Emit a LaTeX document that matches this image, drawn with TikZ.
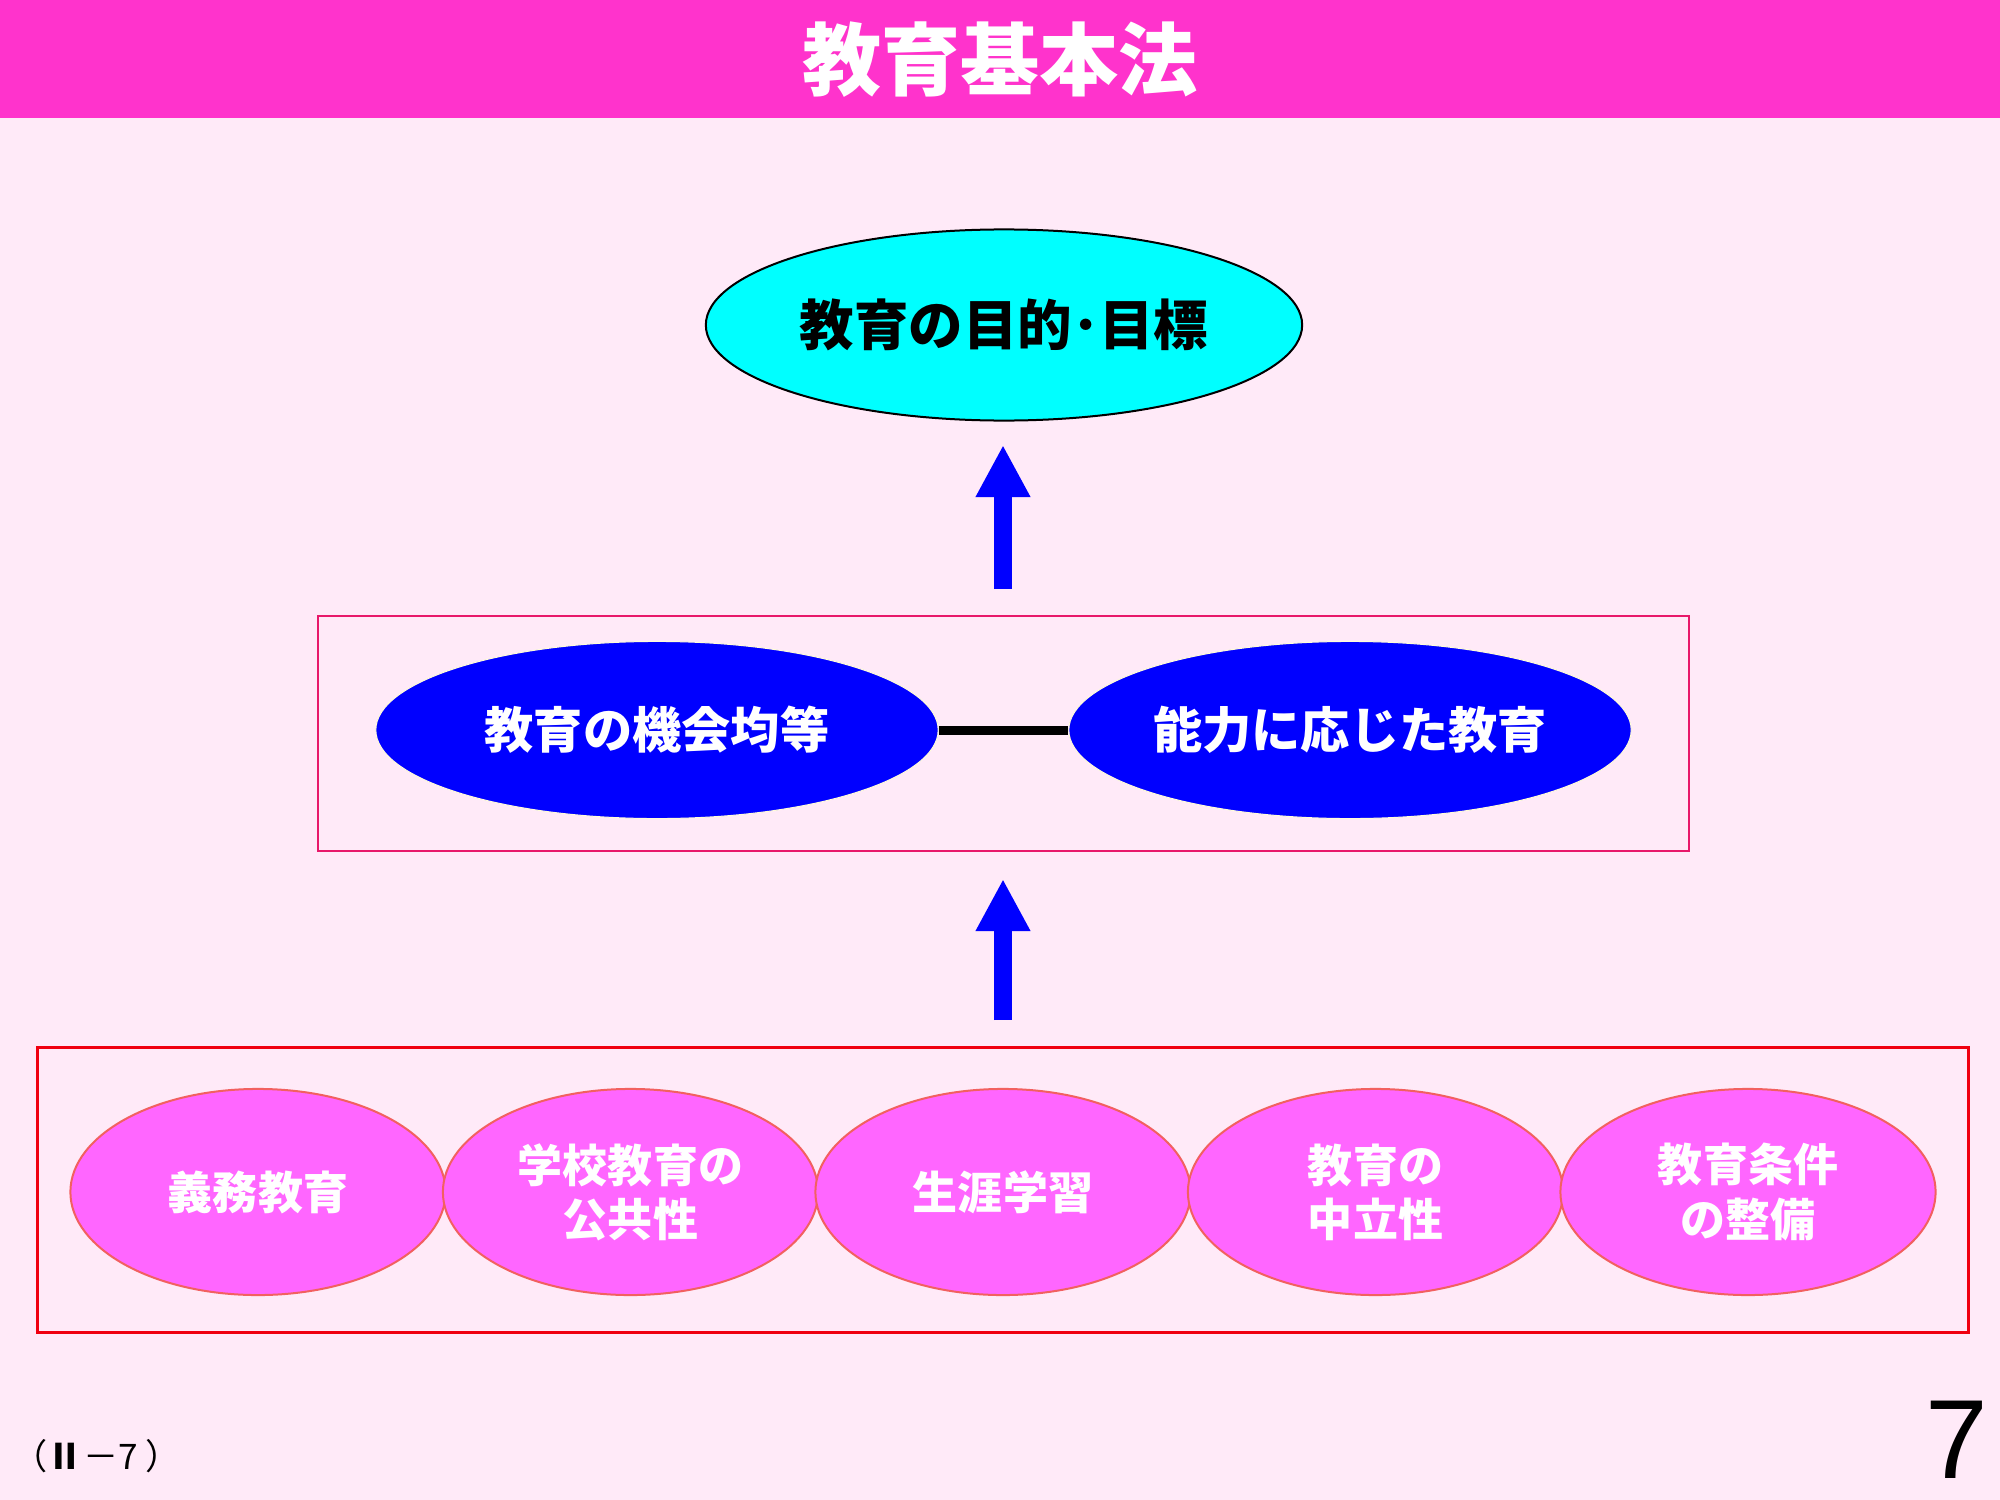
\documentclass[tikz,border=0pt]{standalone}
\usepackage{fontspec}
\newfontfamily\cjk{Noto Sans CJK JP}
\newfontfamily\arial{Liberation Sans}
\usetikzlibrary{shapes.geometric,arrows.meta}
\definecolor{bgpink}{HTML}{FFEAF8}
\definecolor{titlebar}{HTML}{FF33CC}
\definecolor{goalcyan}{HTML}{00FFFF}
\definecolor{ovalpink}{HTML}{FF66FF}
\definecolor{ovaledge}{HTML}{F26060}
\definecolor{boxcrimson}{HTML}{E8186A}
\definecolor{boxred}{HTML}{F00010}
\definecolor{arrowblue}{HTML}{0000FF}
\tikzset{
  goal/.style={ellipse, draw=black, line width=0.02cm, fill=goalcyan, inner sep=0pt,
    minimum width=5.96cm, minimum height=1.91cm,
    font=\cjk\bfseries\fontsize{15.5pt}{18pt}\selectfont, text=black},
  blueoval/.style={ellipse, draw=yellow!15, line width=0.01cm, fill=arrowblue, inner sep=0pt,
    minimum width=5.62cm, minimum height=1.77cm,
    font=\cjk\bfseries\fontsize{14pt}{17pt}\selectfont, text=white},
  pinkoval/.style={ellipse, draw=ovaledge, line width=0.02cm, fill=ovalpink, inner sep=0pt,
    minimum width=3.75cm, minimum height=2.06cm, align=center,
    font=\cjk\bfseries\fontsize{12.8pt}{15.4pt}\selectfont, text=white},
  bigarrow/.style={draw=arrowblue, line width=0.18cm,
    -{Triangle[width=0.51cm,length=0.52cm]}},
}
\begin{document}
\begin{tikzpicture}[x=0.01cm,y=-0.01cm]
\fill[bgpink] (0,0) rectangle (2000,1500);
\useasboundingbox (0,0) rectangle (2000,1500);
% title bar
\fill[titlebar] (0,0) rectangle (2000,118);
\node[text=white, font=\cjk\bfseries\fontsize{22.5pt}{26pt}\selectfont] (title) at (1000,60) {教育基本法};
% top goal
\node[goal] (goal) at (1004,325) {教育の目的･目標};
% middle box
\node[draw=boxcrimson, line width=0.025cm, minimum width=13.70cm, minimum height=2.35cm, inner sep=0pt] (midbox) at (1003.5,733.5) {};
\node[blueoval] (eq) at (657,730) {教育の機会均等};
\node[blueoval] (ab) at (1350,730) {能力に応じた教育};
\draw[line width=0.09cm, black] (eq.east) -- (ab.west);
% bottom box
\node[draw=boxred, line width=0.03cm, minimum width=19.30cm, minimum height=2.84cm, inner sep=0pt] (botbox) at (1003,1190) {};
\node[pinkoval] (p1) at (258,1192) {義務教育};
\node[pinkoval] (p2) at (630.5,1192) {学校教育の\\公共性};
\node[pinkoval] (p3) at (1003,1192) {生涯学習};
\node[pinkoval] (p4) at (1375.5,1192) {教育の\\中立性};
\node[pinkoval] (p5) at (1748,1192) {教育条件\\の整備};
% arrows
\coordinate (a1s) at (1003,589);
\coordinate (a1e) at (1003,445);
\coordinate (a2s) at (1003,1020);
\coordinate (a2e) at (1003,879);
\draw[bigarrow] (a1s) -- (a1e);
\draw[bigarrow] (a2s) -- (a2e);
% footer
\node[anchor=west, inner sep=0pt, font=\cjk\fontsize{10pt}{12pt}\selectfont] (ref) at (12,1456) {（{\bfseries Ⅱ}－7 ）};
\node[inner sep=0pt, font=\arial\fontsize{32pt}{36pt}\selectfont] (page) at (1957,1440) {7};
\end{tikzpicture}
\end{document}
